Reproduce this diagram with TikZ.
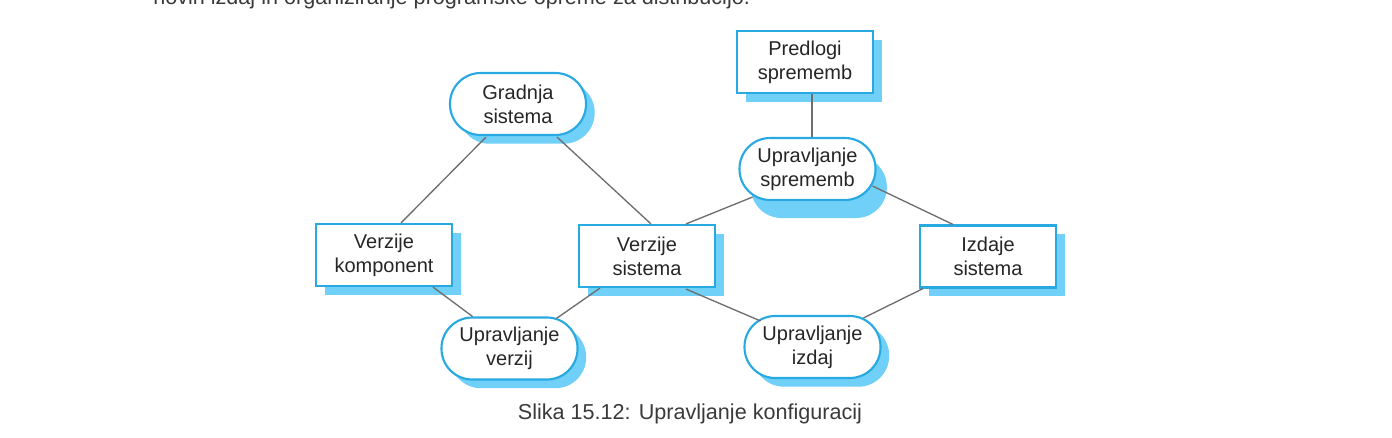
\documentclass[tikz,border=0pt]{standalone}
\usepackage{fontspec}
\setmainfont{Liberation Sans}
\usetikzlibrary{shadows,calc}
\definecolor{bord}{HTML}{29A9E1}
\definecolor{shad}{HTML}{70D0F7}
\definecolor{lin}{HTML}{6E6E6E}
\definecolor{txt}{HTML}{262626}
\definecolor{captxt}{HTML}{3A3A3A}
\begin{document}
\begin{tikzpicture}[x=0.75pt,y=-0.75pt,
  nodefont/.style={font=\fontsize{15}{17.8}\selectfont},
  base/.style={draw=bord, line width=1.6pt, fill=white, align=center, text=txt,
    inner sep=0pt, minimum width=102pt, minimum height=46.5pt, nodefont},
  sh/.style={drop shadow={shadow xshift=6.5pt, shadow yshift=-6.5pt, fill=shad, opacity=1}},
  boxnode/.style={base, sh},
  pill/.style={base, sh, rounded corners=23pt},
  conn/.style={draw=lin, line width=1pt}]
\useasboundingbox (0,0) rectangle (1392,437);
% clipped line of text at top
\node[anchor=base west, inner sep=0pt, text=captxt, font=\fontsize{16.2}{19}\selectfont] (toptext) at (153,4) {novih izdaj in organiziranje programske opreme za distribucijo.};
% nodes
\node[pill] (g) at (518,104) {Gradnja\\sistema};
\node[boxnode] (ps) at (805,62) {Predlogi\\sprememb};
\node[base, rounded corners=23pt, drop shadow={shadow xshift=8.5pt, shadow yshift=-13.5pt, fill=shad, opacity=1}] (us) at (807.5,169) {Upravljanje\\sprememb};
\node[boxnode] (vk) at (384,255) {Verzije\\komponent};
\node[boxnode] (vs) at (647,256) {Verzije\\sistema};
\node[boxnode] (is) at (988,256.5) {Izdaje\\sistema};
\node[pill] (uv) at (509.5,348.5) {Upravljanje\\verzij};
\node[pill] (ui) at (812.5,347) {Upravljanje\\izdaj};
% connectors
\draw[conn] ($(g.south)+(-32,1)$) -- ($(vk.north)+(17,0)$);
\draw[conn] ($(g.south)+(39,1)$) -- ($(vs.north)+(4,0)$);
\draw[conn] ($(vk.south)+(49,0)$) -- ($(uv.north)+(-37,0)$);
\draw[conn] ($(vs.south)+(-47,0)$) -- ($(uv.north)+(47,2)$);
\draw[conn] ($(vs.north)+(39,0)$) -- ($(us.south)+(-55,-4)$);
\draw[conn] ($(vs.south)+(39,1)$) -- ($(ui.north)+(-52,6)$);
\draw[conn] ($(ps.south)+(7,0)$) -- ($(us.north)+(4.5,0)$);
\draw[conn] ($(us.center)+(65,17)$) -- ($(is.north)+(-35,0)$);
\draw[conn] ($(is.south)+(-65,0)$) -- ($(ui.north)+(51,3)$);
% caption
\node[text=captxt, font=\fontsize{16.2}{19}\selectfont, inner sep=0pt] (cap) at (690,414) {Slika 15.12: Upravljanje konfiguracij};
\end{tikzpicture}
\end{document}
